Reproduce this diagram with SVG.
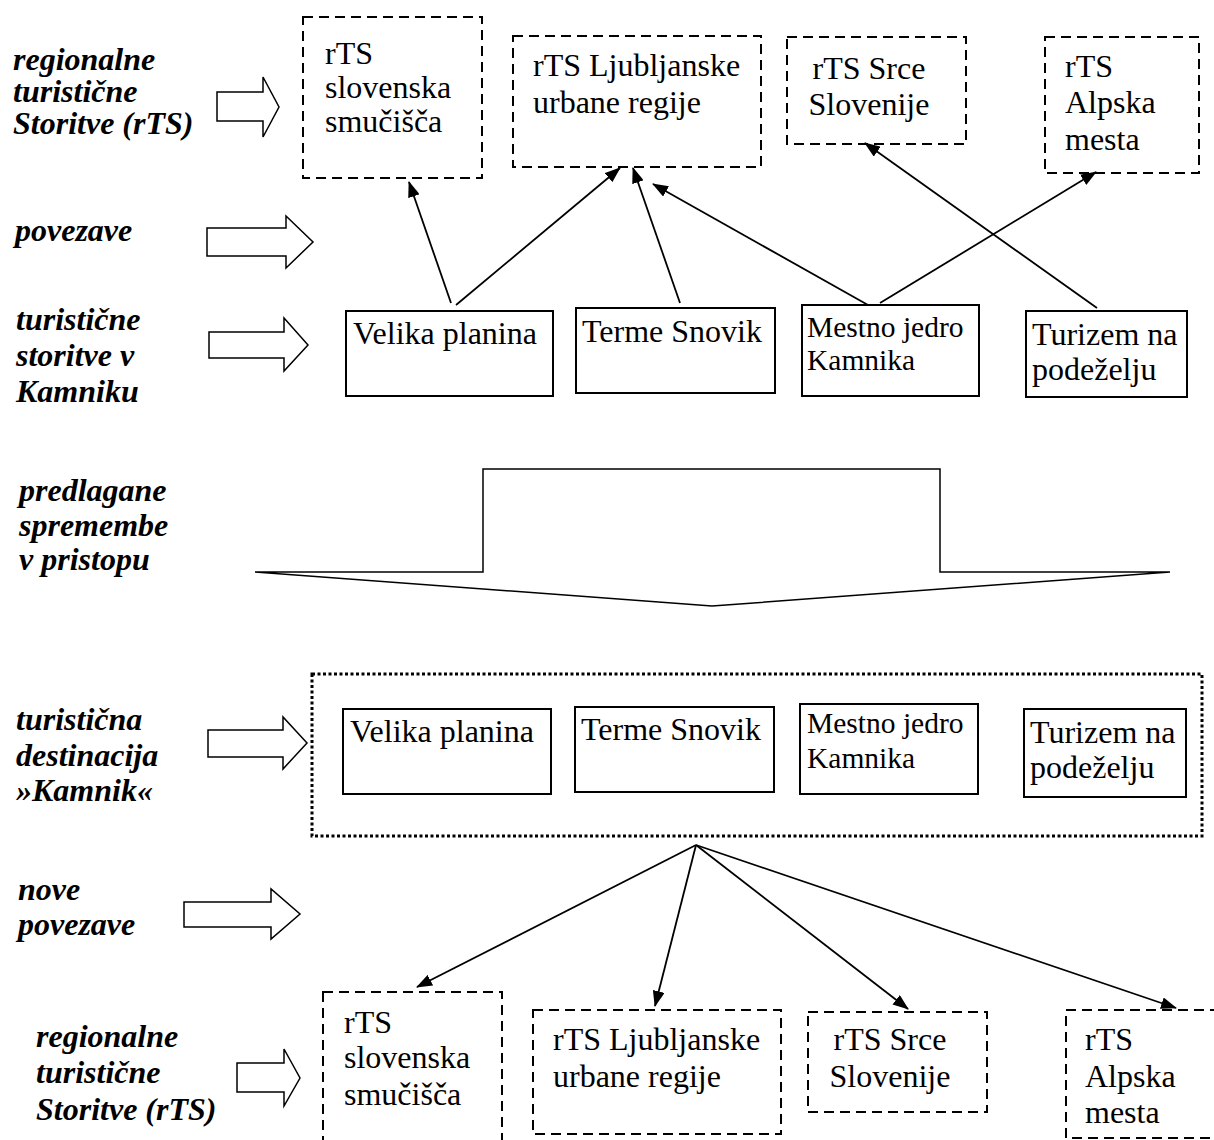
<svg xmlns="http://www.w3.org/2000/svg" width="1214" height="1140" viewBox="0 0 1214 1140">
<defs>
<marker id="ah" markerUnits="userSpaceOnUse" markerWidth="16" markerHeight="12" viewBox="0 0 16 12" refX="15" refY="6" orient="auto"><path d="M0,0 L16,6 L0,12 z" fill="#000"/></marker>
</defs>
<style>
.lbl{font-family:"Liberation Serif","Times New Roman",serif;font-weight:bold;font-style:italic;font-size:32px;fill:#000}
.t{font-family:"Liberation Serif","Times New Roman",serif;font-size:32px;fill:#000}
.ts{font-size:29.5px}
.dash{fill:#fff;stroke:#000;stroke-width:2;stroke-dasharray:10 6}
.solid{fill:#fff;stroke:#000;stroke-width:2}
.dot{fill:none;stroke:#000;stroke-width:3;stroke-dasharray:3 2.5}
.hollow{fill:#fff;stroke:#000;stroke-width:1.5}
.conn line{stroke:#000;stroke-width:1.8;marker-end:url(#ah)}
</style>
<rect width="1214" height="1140" fill="#fff"/>

<g id="labels">
<text class="lbl" x="13" y="70">regionalne</text>
<text class="lbl" x="13" y="102">turistične</text>
<text class="lbl" x="13" y="134">Storitve (rTS)</text>
<text class="lbl" x="15" y="241">povezave</text>
<text class="lbl" x="16" y="330">turistične</text>
<text class="lbl" x="16" y="366">storitve v</text>
<text class="lbl" x="16" y="402">Kamniku</text>
<text class="lbl" x="19" y="501">predlagane</text>
<text class="lbl" x="19" y="536">spremembe</text>
<text class="lbl" x="19" y="570">v pristopu</text>
<text class="lbl" x="16" y="730">turistična</text>
<text class="lbl" x="16" y="766">destinacija</text>
<text class="lbl" x="16" y="801">»Kamnik«</text>
<text class="lbl" x="18" y="900">nove</text>
<text class="lbl" x="18" y="935">povezave</text>
<text class="lbl" x="36" y="1047">regionalne</text>
<text class="lbl" x="36" y="1083">turistične</text>
<text class="lbl" x="36" y="1120">Storitve (rTS)</text>
</g>

<g id="hollow-arrows">
<polygon class="hollow" points="217,92 263,92 263,77 279,107 263,137 263,121 217,121"/>
<polygon class="hollow" points="207,228 286,228 286,216 313,242 286,268 286,256 207,256"/>
<polygon class="hollow" points="209,332 284,332 284,318 308,345 284,371 284,358 209,358"/>
<polygon class="hollow" points="208,730 283,730 283,717 307,743 283,769 283,757 208,757"/>
<polygon class="hollow" points="184,902 271,902 271,889 300,914 271,939 271,927 184,927"/>
<polygon class="hollow" points="237,1063 284,1063 284,1049 300,1078 284,1106 284,1092 237,1092"/>
</g>

<g id="big-arrow">
<polygon class="hollow" points="483,469 940,469 940,572 1170,572 712,606 255,572 483,572"/>
</g>

<g id="rts1-top">
<rect class="dash" x="303" y="17" width="179" height="161"/>
<text class="t" x="325" y="64">rTS</text>
<text class="t" x="325" y="98">slovenska</text>
<text class="t" x="325" y="132">smučišča</text>
</g>
<g id="rts2-top">
<rect class="dash" x="513" y="36" width="248" height="131"/>
<text class="t" x="533" y="76">rTS Ljubljanske</text>
<text class="t" x="533" y="113">urbane regije</text>
</g>
<g id="rts3-top">
<rect class="dash" x="787" y="37" width="179" height="107"/>
<text class="t" x="869" y="79" text-anchor="middle">rTS Srce</text>
<text class="t" x="869" y="115" text-anchor="middle">Slovenije</text>
</g>
<g id="rts4-top">
<rect class="dash" x="1045" y="37" width="154" height="136"/>
<text class="t" x="1065" y="77">rTS</text>
<text class="t" x="1065" y="113">Alpska</text>
<text class="t" x="1065" y="150">mesta</text>
</g>

<g id="velika-top">
<rect class="solid" x="346" y="311" width="207" height="85"/>
<text class="t" x="353" y="344">Velika planina</text>
</g>
<g id="terme-top">
<rect class="solid" x="576" y="308" width="199" height="85"/>
<text class="t" x="582" y="342">Terme Snovik</text>
</g>
<g id="mestno-top">
<rect class="solid" x="802" y="305" width="177" height="91"/>
<text class="t ts" x="807" y="337">Mestno jedro</text>
<text class="t ts" x="807" y="370">Kamnika</text>
</g>
<g id="turizem-top">
<rect class="solid" x="1026" y="311" width="161" height="86"/>
<text class="t" x="1032" y="345">Turizem na</text>
<text class="t" x="1032" y="380">podeželju</text>
</g>

<g id="destinacija">
<rect class="dot" x="312" y="674" width="890" height="162"/>
</g>
<g id="velika-dest">
<rect class="solid" x="343" y="709" width="208" height="85"/>
<text class="t" x="350" y="742">Velika planina</text>
</g>
<g id="terme-dest">
<rect class="solid" x="575" y="707" width="199" height="85"/>
<text class="t" x="581" y="740">Terme Snovik</text>
</g>
<g id="mestno-dest">
<rect class="solid" x="800" y="704" width="178" height="90"/>
<text class="t ts" x="807" y="733">Mestno jedro</text>
<text class="t ts" x="807" y="768">Kamnika</text>
</g>
<g id="turizem-dest">
<rect class="solid" x="1024" y="709" width="162" height="88"/>
<text class="t" x="1030" y="743">Turizem na</text>
<text class="t" x="1030" y="778">podeželju</text>
</g>

<g id="rts1-bottom">
<rect class="dash" x="323" y="992" width="179" height="170"/>
<text class="t" x="344" y="1033">rTS</text>
<text class="t" x="344" y="1068">slovenska</text>
<text class="t" x="344" y="1105">smučišča</text>
</g>
<g id="rts2-bottom">
<rect class="dash" x="533" y="1010" width="248" height="124"/>
<text class="t" x="553" y="1050">rTS Ljubljanske</text>
<text class="t" x="553" y="1087">urbane regije</text>
</g>
<g id="rts3-bottom">
<rect class="dash" x="808" y="1012" width="179" height="100"/>
<text class="t" x="890" y="1050" text-anchor="middle">rTS Srce</text>
<text class="t" x="890" y="1087" text-anchor="middle">Slovenije</text>
</g>
<g id="rts4-bottom">
<rect class="dash" x="1066" y="1010" width="160" height="128"/>
<text class="t" x="1085" y="1050">rTS</text>
<text class="t" x="1085" y="1087">Alpska</text>
<text class="t" x="1085" y="1123">mesta</text>
</g>

<g id="connectors" class="conn">
<line x1="451" y1="303" x2="409" y2="182"/>
<line x1="456" y1="305" x2="620" y2="168"/>
<line x1="680" y1="303" x2="633" y2="168"/>
<line x1="868" y1="305" x2="653" y2="184"/>
<line x1="880" y1="303" x2="1096" y2="172"/>
<line x1="1097" y1="308" x2="865" y2="143"/>
<line x1="696" y1="845" x2="417" y2="987"/>
<line x1="696" y1="845" x2="655" y2="1006"/>
<line x1="696" y1="845" x2="908" y2="1009"/>
<line x1="696" y1="845" x2="1176" y2="1008"/>
</g>
</svg>
